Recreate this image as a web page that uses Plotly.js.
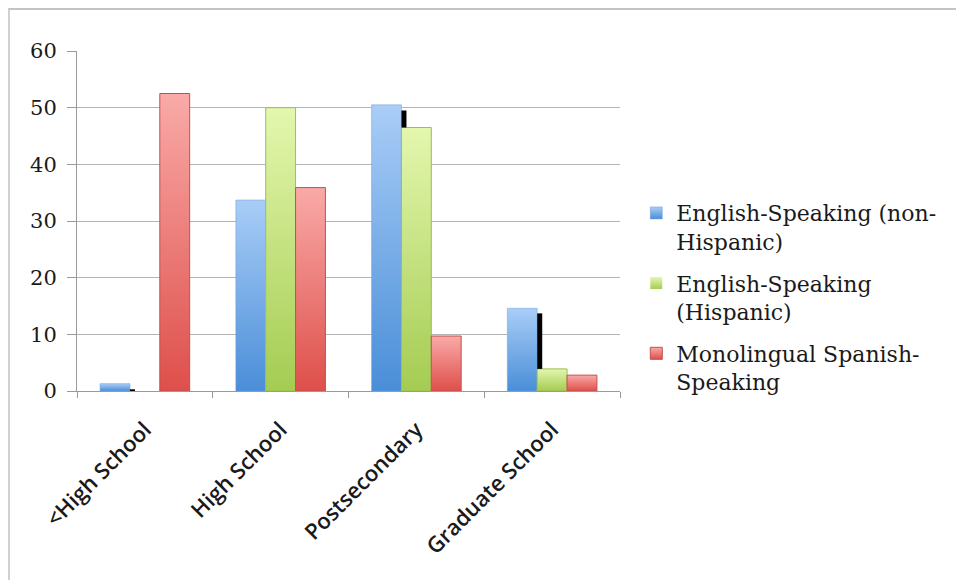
<!DOCTYPE html>
<html>
<head>
<meta charset="utf-8">
<script src="https://cdn.plot.ly/plotly-3.0.1.min.js"></script>
<style>
  html, body { margin: 0; padding: 0; background: #fff; }
  #wrap { position: relative; width: 956px; height: 580px; overflow: hidden; }
  #frame { position: absolute; left: 8px; top: 8px; width: 960px; height: 600px;
           border-top: 2px solid #c4c4c4; border-left: 2px solid #d0d0d0; box-sizing: border-box; pointer-events: none; }
  #chart { position: absolute; left: 0; top: 0; width: 956px; height: 580px; }
</style>
</head>
<body>
<div id="wrap">
  <div id="chart"></div>
  <div id="frame"></div>
</div>
<script>
const categories = ['<High School', 'High School', 'Postsecondary', 'Graduate School'];
const seriesNames = ['English-Speaking (non-<br>Hispanic)', 'English-Speaking<br>(Hispanic)', 'Monolingual Spanish-<br>Speaking'];
const englishNonHispanic = [1.3, 33.7, 50.5, 14.6];
const englishHispanic = [0, 50.0, 46.5, 3.9];
const monolingualSpanish = [52.5, 35.9, 9.7, 2.8];
// dark rendering artefacts seen beside the green bars (base and length)
const markBase = [0, 0, 46.5, 3.9];
const markLength = [0.3, 0, 3.0, 9.8];
const yTicks = [0, 10, 20, 30, 40, 50, 60];

const barW = 0.22;
const traces = [
  { type: 'bar', name: seriesNames[0], x: categories, y: englishNonHispanic,
    width: barW, offset: -0.33, legendgroup: 'a',
    marker: { color: '#78aae6', line: { color: '#6c9fdc', width: 0.5 } } },
  { type: 'bar', name: seriesNames[1], x: categories, y: englishHispanic,
    width: barW, offset: -0.11, legendgroup: 'b',
    marker: { color: '#c6e384', line: { color: '#9cbf55', width: [0, 1, 1, 1] } } },
  { type: 'bar', name: seriesNames[2], x: categories, y: monolingualSpanish,
    width: barW, offset: 0.11, legendgroup: 'c',
    marker: { color: '#ef7b78', line: { color: '#c4504c', width: 1 } } },
  { type: 'bar', name: 'mark', x: categories, y: markLength, base: markBase,
    width: 0.037, offset: -0.11, showlegend: false, hoverinfo: 'skip', legendgroup: 'd',
    marker: { color: '#000000', line: { width: 0 } } }
];

const layout = {
  width: 956, height: 580,
  margin: { l: 77, r: 336, t: 51, b: 189, autoexpand: false },
  paper_bgcolor: '#ffffff', plot_bgcolor: '#ffffff',
  barmode: 'group',
  showlegend: true,
  legend: {
    x: 1.03, y: 0.585, xanchor: 'left', yanchor: 'top',
    font: { family: 'DejaVu Serif', size: 22, color: '#1a1a1a' },
    valign: 'top', traceorder: 'grouped', itemwidth: 30,
    tracegroupgap: 10, bgcolor: 'rgba(0,0,0,0)'
  },
  xaxis: {
    type: 'category',
    tickangle: -45,
    tickson: 'boundaries',
    ticks: 'outside', ticklen: 6, tickcolor: '#999',
    showline: true, linecolor: '#9a9a9a', linewidth: 1,
    showgrid: false,
    tickfont: { family: 'Open Sans', size: 22, weight: 600, color: '#1a1a1a' },
    ticklabelstandoff: 16,
    range: [-0.5, 3.5]
  },
  yaxis: {
    range: [0, 60],
    tickvals: yTicks,
    ticks: 'outside', ticklen: 9, tickcolor: '#999',
    showline: true, linecolor: '#9a9a9a', linewidth: 1,
    showgrid: true, gridcolor: '#b4b4b4', gridwidth: 1,
    zeroline: false,
    tickfont: { family: 'DejaVu Serif', size: 21, color: '#1a1a1a' },
    ticklabelstandoff: 6
  }
};

Plotly.newPlot('chart', traces, layout, { displayModeBar: false, staticPlot: true }).then(function (gd) {
  const svg = gd.querySelector('svg.main-svg');
  const ns = 'http://www.w3.org/2000/svg';
  const defs = document.createElementNS(ns, 'defs');
  const grads = [
    ['gBlue', '#a9cdf7', '#4a8ed8'],
    ['gGreen', '#e4f7ae', '#a4cc52'],
    ['gRed', '#f9aaa8', '#de4f4a']
  ];
  grads.forEach(function (g) {
    const lg = document.createElementNS(ns, 'linearGradient');
    lg.setAttribute('id', g[0]);
    lg.setAttribute('x1', '0'); lg.setAttribute('y1', '0');
    lg.setAttribute('x2', '0'); lg.setAttribute('y2', '1');
    [[0, g[1]], [1, g[2]]].forEach(function (s) {
      const st = document.createElementNS(ns, 'stop');
      st.setAttribute('offset', s[0]);
      st.setAttribute('stop-color', s[1]);
      lg.appendChild(st);
    });
    defs.appendChild(lg);
  });
  svg.insertBefore(defs, svg.firstChild);
  const barTraces = gd.querySelectorAll('.barlayer .trace.bars');
  barTraces.forEach(function (t, i) {
    if (i < 3) {
      t.querySelectorAll('path').forEach(function (p) { p.style.fill = 'url(#' + grads[i][0] + ')'; });
    }
  });
  const legendPts = gd.querySelectorAll('.legend .traces');
  legendPts.forEach(function (t, i) {
    if (i < 3) {
      t.querySelectorAll('.legendpoints path').forEach(function (p) { p.style.fill = 'url(#' + grads[i][0] + ')'; });
    }
  });
});
</script>
</body>
</html>
